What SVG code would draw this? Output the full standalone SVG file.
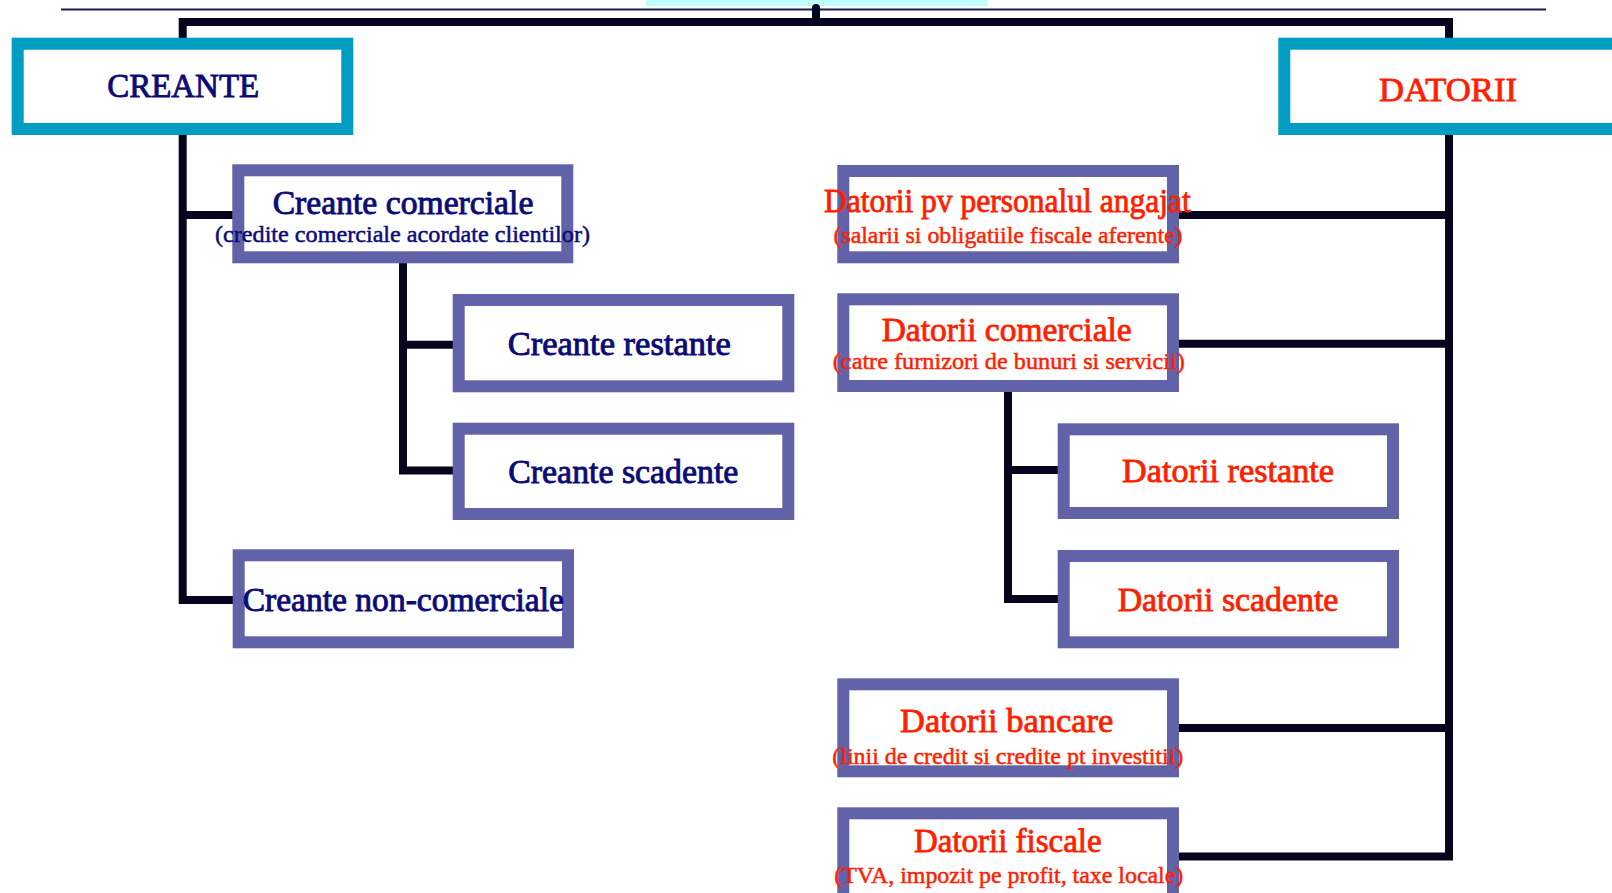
<svg xmlns="http://www.w3.org/2000/svg" width="1612" height="893" viewBox="0 0 1612 893">
<style>
.bg{fill:#ffffff}
.main{fill:#ffffff;stroke:#009cc2;stroke-width:12}
.box{fill:#ffffff;stroke:#6262a8;stroke-width:12}
.ln{fill:none;stroke:#05051e;stroke-width:8;stroke-linejoin:miter}
.t{font-family:"Liberation Serif","Times New Roman",serif;text-anchor:middle}
.navy{fill:#0b0b78;stroke:#0b0b78;stroke-width:0.9}
.red{fill:#ff1f00;stroke:#ff1f00;stroke-width:0.8}
.big{font-size:33px}
.sub{font-size:24px;stroke-width:0.5}
</style>
<rect class="bg" x="0" y="0" width="1612" height="893"/>
<rect x="646" y="0" width="341" height="6" fill="#c0ffff"/>
<line x1="61" y1="9.5" x2="1546" y2="9.5" stroke="#1a1a50" stroke-width="2.2"/>
<g id="connectors">
<line x1="816" y1="8" x2="816" y2="22" stroke="#05051e" stroke-width="8" stroke-linecap="round"/>
<path class="ln" d="M182.7,120 V22 H1449 V120" stroke-width="6.5"/>
<path class="ln" d="M182.7,120 V600 H240 M182.7,215 H240"/>
<path class="ln" d="M403,255 V470.5 H460 M403,344.7 H460"/>
<path class="ln" d="M1449,120 V856.5 H1175 M1449,215 H1175 M1449,343.8 H1175 M1449,728 H1175"/>
<path class="ln" d="M1008,385 V599 H1062 M1008,470 H1062"/>
</g>
<g id="creante">
<rect class="main" x="17.7" y="43.7" width="329.6" height="85.3"/>
<text class="t navy" x="183.2" y="97.3" font-size="34" textLength="152" lengthAdjust="spacingAndGlyphs">CREANTE</text>
</g>
<g id="datorii">
<rect class="main" x="1284.3" y="43.7" width="335" height="85.3"/>
<text class="t red" x="1448" y="100.7" font-size="33" textLength="138" lengthAdjust="spacingAndGlyphs">DATORII</text>
</g>
<g id="creante-comerciale">
<rect class="box" x="238.3" y="170.3" width="329" height="87"/>
<text class="t navy big" x="403" y="214.3" textLength="260.7" lengthAdjust="spacingAndGlyphs">Creante comerciale</text>
<text class="t navy sub" x="402.5" y="242.3" textLength="375" lengthAdjust="spacingAndGlyphs">(credite comerciale acordate clientilor)</text>
</g>
<g id="creante-restante">
<rect class="box" x="458.7" y="300" width="329.6" height="86.3"/>
<text class="t navy big" x="619.3" y="355" textLength="223" lengthAdjust="spacingAndGlyphs">Creante restante</text>
</g>
<g id="creante-scadente">
<rect class="box" x="458.7" y="428.7" width="329.6" height="85.3"/>
<text class="t navy big" x="623.3" y="482.7" textLength="230" lengthAdjust="spacingAndGlyphs">Creante scadente</text>
</g>
<g id="creante-non-comerciale">
<rect class="box" x="238.7" y="555.3" width="329.3" height="87"/>
<text class="t navy big" x="403.3" y="610.7" textLength="321.3" lengthAdjust="spacingAndGlyphs">Creante non-comerciale</text>
</g>
<g id="datorii-personal">
<rect class="box" x="843.3" y="171" width="329.7" height="86.3"/>
<text class="t red big" x="1007.3" y="211.5" textLength="366.7" lengthAdjust="spacingAndGlyphs">Datorii pv personalul angajat</text>
<text class="t red sub" x="1008" y="243.3" textLength="349" lengthAdjust="spacingAndGlyphs">(salarii si obligatiile fiscale aferente)</text>
</g>
<g id="datorii-comerciale">
<rect class="box" x="843.3" y="299.3" width="329.7" height="86.7"/>
<text class="t red big" x="1006.7" y="340.5" textLength="250" lengthAdjust="spacingAndGlyphs">Datorii comerciale</text>
<text class="t red sub" x="1008.8" y="369" textLength="352" lengthAdjust="spacingAndGlyphs">(catre furnizori de bunuri si servicii)</text>
</g>
<g id="datorii-restante">
<rect class="box" x="1063.7" y="429.3" width="329.3" height="83.7"/>
<text class="t red big" x="1228" y="481.7" textLength="212" lengthAdjust="spacingAndGlyphs">Datorii restante</text>
</g>
<g id="datorii-scadente">
<rect class="box" x="1063.7" y="556" width="329.3" height="86.3"/>
<text class="t red big" x="1228" y="611" textLength="220.7" lengthAdjust="spacingAndGlyphs">Datorii scadente</text>
</g>
<g id="datorii-bancare">
<rect class="box" x="843.3" y="684.3" width="329.7" height="87"/>
<text class="t red big" x="1006.7" y="731.7" textLength="213.3" lengthAdjust="spacingAndGlyphs">Datorii bancare</text>
<text class="t red sub" x="1007.8" y="764" textLength="351" lengthAdjust="spacingAndGlyphs">(linii de credit si credite pt investitii)</text>
</g>
<g id="datorii-fiscale">
<rect class="box" x="843.3" y="813.3" width="329.7" height="100"/>
<text class="t red big" x="1007.8" y="851.7" textLength="187.7" lengthAdjust="spacingAndGlyphs">Datorii fiscale</text>
<text class="t red sub" x="1008.8" y="883.3" textLength="349" lengthAdjust="spacingAndGlyphs">(TVA, impozit pe profit, taxe locale)</text>
</g>
</svg>
